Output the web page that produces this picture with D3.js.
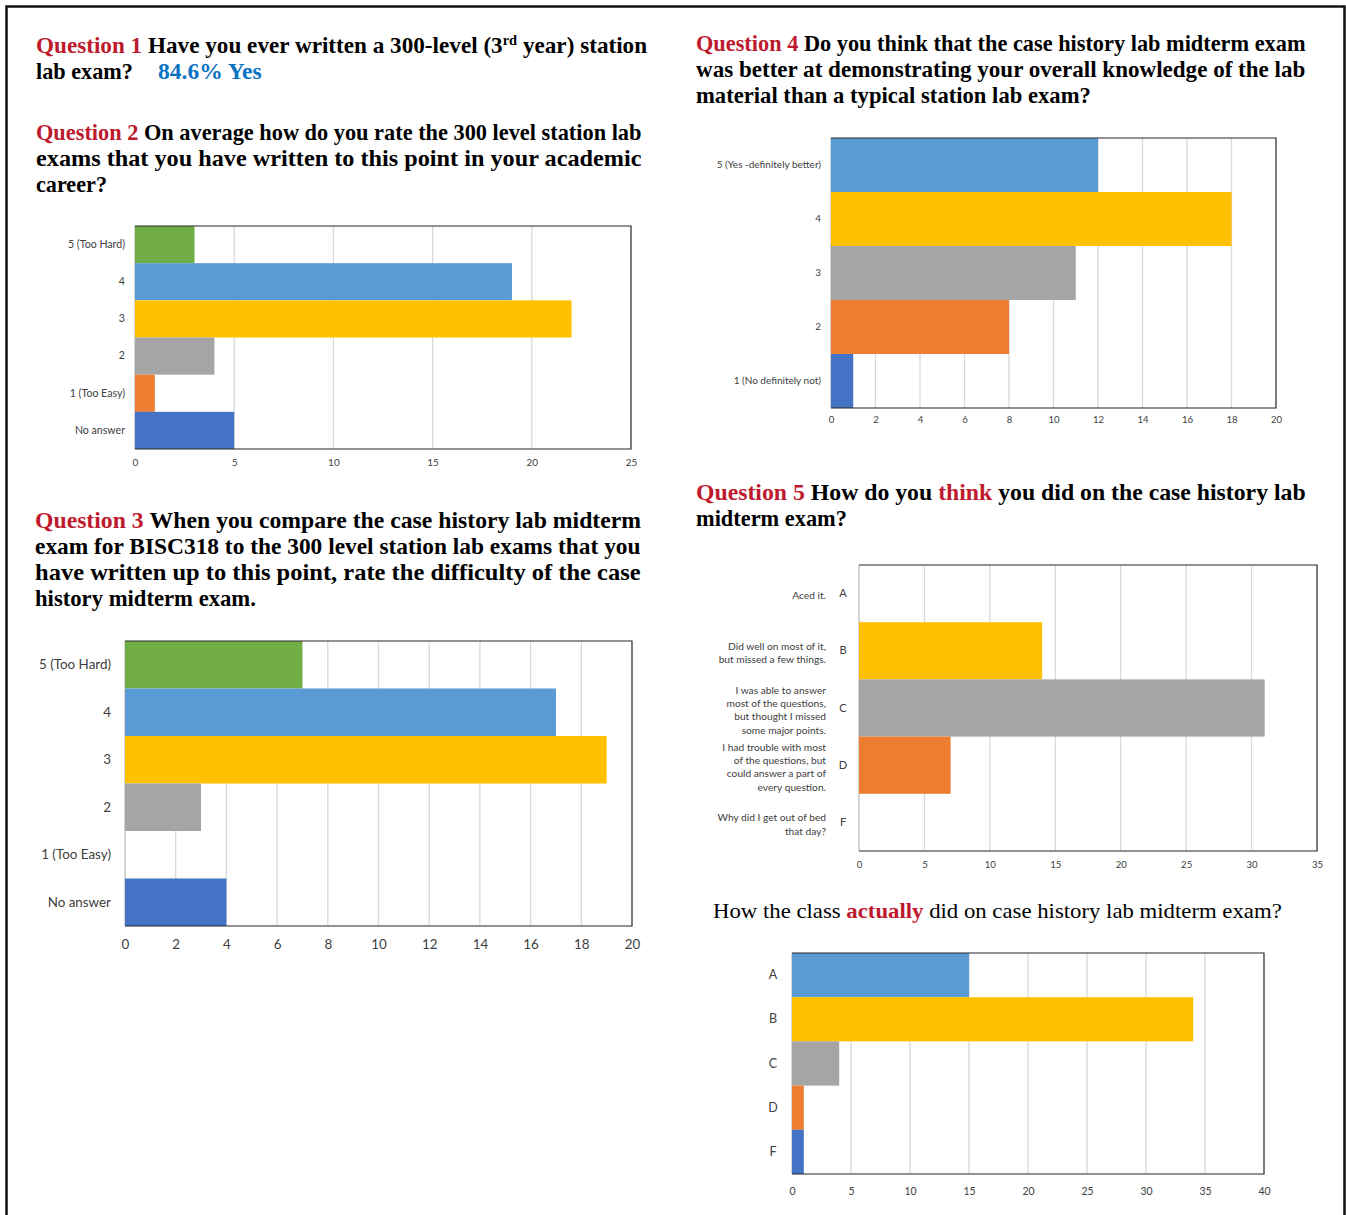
<!DOCTYPE html>
<html>
<head>
<meta charset="utf-8">
<script src="https://cdn.jsdelivr.net/npm/d3@7"></script>
<style>
  body { margin: 0; background: #fff; }
  svg { display: block; }
</style>
</head>
<body>
<svg id="page" width="1346" height="1215"></svg>
<script>
// ---- Survey data -------------------------------------------------------
const q1YesShare = "84.6% Yes";

const q2Categories = ["5 (Too Hard)", "4", "3", "2", "1 (Too Easy)", "No answer"];
const q2Counts = [3, 19, 22, 4, 1, 5];
const q2Ticks = [0, 5, 10, 15, 20, 25];

const q3Categories = ["5 (Too Hard)", "4", "3", "2", "1 (Too Easy)", "No answer"];
const q3Counts = [7, 17, 19, 3, 0, 4];
const q3Ticks = [0, 2, 4, 6, 8, 10, 12, 14, 16, 18, 20];

const q4Categories = ["5 (Yes -definitely better)", "4", "3", "2", "1 (No definitely not)"];
const q4Counts = [12, 18, 11, 8, 1];
const q4Ticks = [0, 2, 4, 6, 8, 10, 12, 14, 16, 18, 20];

const q5Grades = ["A", "B", "C", "D", "F"];
const q5Descriptions = [
  ["Aced it."],
  ["Did well on most of it,", "but missed a few things."],
  ["I was able to answer", "most of the questions,", "but thought I missed", "some major points."],
  ["I had trouble with most", "of the questions, but", "could answer a part of", "every question."],
  ["Why did I get out of bed", "that day?"]
];
const q5Counts = [0, 14, 31, 7, 0];
const q5Ticks = [0, 5, 10, 15, 20, 25, 30, 35];

const actualGrades = ["A", "B", "C", "D", "F"];
const actualCounts = [15, 34, 4, 1, 1];
const actualTicks = [0, 5, 10, 15, 20, 25, 30, 35, 40];

// ---- Styling -----------------------------------------------------------
// Office palette, assigned from the bottom category upward
const palette = ["#4472c4", "#ed7d31", "#a5a5a5", "#ffc000", "#5b9bd5", "#70ad47"];
const RED = "#be1a2e";
const BLUE = "#0a72c2";
const SERIF = "'Liberation Serif', 'Times New Roman', serif";
const SANS = "Lato, 'Open Sans', 'DejaVu Sans', sans-serif";
const AXIS_TEXT = "#404040";

const svg = d3.select("#page");

// page frame (open at the bottom)
svg.append("path")
  .attr("d", "M6.5,1215 V6.5 H1344.5 V1215")
  .attr("fill", "none").attr("stroke", "#111").attr("stroke-width", 2.5);

// ---- Heading text ------------------------------------------------------
// A line of mixed-colour runs, squeezed horizontally to a set width.
function textLine(x, baseline, width, runs, weight = "bold", size = 22.5) {
  const t = svg.append("text")
    .attr("font-family", SERIF).attr("font-size", size).attr("font-weight", weight);
  runs.forEach(r => {
    const ts = t.append("tspan").text(r.text).attr("fill", r.color || "#000");
    if (r.weight) ts.attr("font-weight", r.weight);
    if (r.sup) ts.attr("font-size", 14).attr("dy", -8.5);
    if (r.unsup) ts.attr("dy", 8.5);
  });
  const w = t.node().getBBox().width;
  t.attr("transform", `translate(${x},${baseline}) scale(${width / w},1)`);
  return t;
}

// Question 1
textLine(36, 53, 612, [
  { text: "Question 1 ", color: RED },
  { text: "Have you ever written a 300-level (3" },
  { text: "rd", sup: true },
  { text: " year) station", unsup: true }
]);
textLine(36, 79, 97, [{ text: "lab exam?" }]);
textLine(158, 79, 104, [{ text: q1YesShare, color: BLUE }]);

// Question 2
textLine(36, 140, 606, [
  { text: "Question 2 ", color: RED },
  { text: "On average how do you rate the 300 level station lab" }
]);
textLine(36, 166, 606, [{ text: "exams that you have written to this point in your academic" }]);
textLine(36, 192, 71, [{ text: "career?" }]);

// Question 3
textLine(35, 528, 606, [
  { text: "Question 3 ", color: RED },
  { text: "When you compare the case history lab midterm" }
]);
textLine(35, 554, 606, [{ text: "exam for BISC318 to the 300 level station lab exams that you" }]);
textLine(35, 580, 606, [{ text: "have written up to this point, rate the difficulty of the case" }]);
textLine(35, 606, 221, [{ text: "history midterm exam." }]);

// Question 4
textLine(696, 51, 610, [
  { text: "Question 4 ", color: RED },
  { text: "Do you think that the case history lab midterm exam" }
]);
textLine(696, 77, 610, [{ text: "was better at demonstrating your overall knowledge of the lab" }]);
textLine(696, 103, 395, [{ text: "material than a typical station lab exam?" }]);

// Question 5
textLine(696, 500, 610, [
  { text: "Question 5 ", color: RED },
  { text: "How do you " },
  { text: "think", color: RED },
  { text: " you did on the case history lab" }
]);
textLine(696, 526, 151, [{ text: "midterm exam?" }]);

// Actual results heading
textLine(713, 918, 569, [
  { text: "How the class " },
  { text: "actually", color: RED, weight: "bold" },
  { text: " did on case history lab midterm exam?" }
], "normal", 22);

// ---- Horizontal bar charts ---------------------------------------------
function barChart(o) {
  const g = svg.append("g");
  const x = d3.scaleLinear().domain([0, d3.max(o.ticks)]).range([o.x0, o.x1]);
  const y = d3.scaleBand().domain(o.categories).range([o.y0, o.y1]).padding(0);
  const n = o.categories.length;

  // vertical gridlines
  g.append("g").selectAll("line").data(o.ticks.slice(1, -1)).join("line")
    .attr("x1", d => x(d)).attr("x2", d => x(d))
    .attr("y1", o.y0).attr("y2", o.y1)
    .attr("stroke", "#d9d9d9").attr("stroke-width", 1.3);

  // left value axis line
  g.append("line").attr("x1", o.x0).attr("x2", o.x0).attr("y1", o.y0).attr("y2", o.y1)
    .attr("stroke", "#bfbfbf").attr("stroke-width", 1.3);

  // bars
  g.append("g").selectAll("rect").data(o.categories).join("rect")
    .attr("x", x(0))
    .attr("y", d => y(d))
    .attr("width", (d, i) => x(o.values[i]) - x(0))
    .attr("height", y.bandwidth())
    .attr("fill", (d, i) => palette[n - 1 - i]);

  // plot-area border (top, right, bottom)
  g.append("path")
    .attr("d", `M${o.x0},${o.y0} H${o.x1} V${o.y1} H${o.x0}`)
    .attr("fill", "none").attr("stroke", "#262626").attr("stroke-width", 1.2);

  // value axis labels
  const xa = g.append("g").attr("transform", `translate(0,${o.tickY})`)
    .call(d3.axisBottom(x).tickValues(o.ticks).tickSize(0).tickPadding(0));
  xa.select(".domain").remove();
  xa.selectAll("text")
    .attr("y", 0).attr("dy", "0.35em")
    .attr("font-family", SANS).attr("font-size", o.tickFont).attr("fill", AXIS_TEXT);

  // category labels
  if (o.labelX !== undefined) {
    const ya = g.append("g").attr("transform", `translate(${o.labelX},0)`)
      .call(d3.axisLeft(y).tickSize(0).tickPadding(0));
    ya.select(".domain").remove();
    ya.selectAll("text")
      .attr("text-anchor", o.labelAnchor || "end")
      .attr("font-family", SANS).attr("font-size", o.labelFont).attr("fill", AXIS_TEXT);
  }
  return { g, x, y };
}

// Question 2 chart
barChart({
  categories: q2Categories, values: q2Counts, ticks: q2Ticks,
  x0: 135, x1: 631, y0: 226, y1: 449,
  tickY: 462, tickFont: 10, labelX: 125, labelFont: 10.6
});

// Question 3 chart
barChart({
  categories: q3Categories, values: q3Counts, ticks: q3Ticks,
  x0: 125, x1: 632, y0: 641, y1: 926,
  tickY: 944, tickFont: 13.4, labelX: 111, labelFont: 13.4
});

// Question 4 chart
barChart({
  categories: q4Categories, values: q4Counts, ticks: q4Ticks,
  x0: 831, x1: 1276, y0: 138, y1: 408,
  tickY: 420, tickFont: 9.6, labelX: 821, labelFont: 10
});

// Question 5 chart: grade letters plus their descriptions
const q5 = barChart({
  categories: q5Grades, values: q5Counts, ticks: q5Ticks,
  x0: 859, x1: 1317, y0: 565, y1: 851,
  tickY: 865, tickFont: 9.6, labelX: 843, labelFont: 11, labelAnchor: "middle"
});
const lineH = 13.3;
q5.g.append("g").selectAll("text").data(q5Grades).join("text")
  .attr("font-family", SANS).attr("font-size", 10.2).attr("fill", AXIS_TEXT)
  .attr("text-anchor", "end")
  .each(function (d, i) {
    const lines = q5Descriptions[i];
    const cy = q5.y(d) + q5.y.bandwidth() / 2 + 2;
    const top = cy - (lines.length - 1) * lineH / 2;
    d3.select(this).selectAll("tspan").data(lines).join("tspan")
      .attr("x", 826)
      .attr("y", (l, k) => top + k * lineH)
      .attr("dy", "0.35em")
      .text(l => l);
  });

// Actual grade distribution
barChart({
  categories: actualGrades, values: actualCounts, ticks: actualTicks,
  x0: 792, x1: 1264, y0: 953, y1: 1174,
  tickY: 1191, tickFont: 10.5, labelX: 773, labelFont: 12.5, labelAnchor: "middle"
});
</script>
</body>
</html>
